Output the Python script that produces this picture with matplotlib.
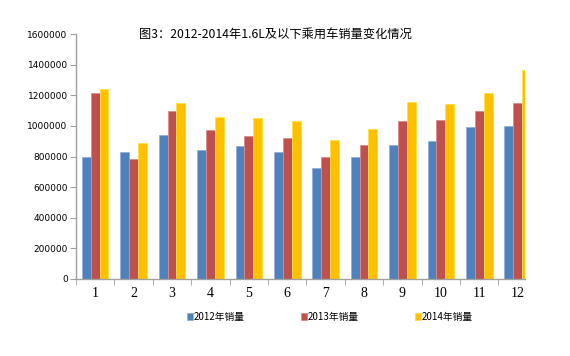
import numpy as np
import matplotlib
matplotlib.use("Agg")
import matplotlib.pyplot as plt
from matplotlib.ticker import MultipleLocator, FixedLocator

plt.rcParams['font.family'] = ['Noto Sans CJK SC', 'DejaVu Sans']

months = ['1', '2', '3', '4', '5', '6', '7', '8', '9', '10', '11', '12']
sales_2012 = [799000, 831000, 940000, 845000, 866000, 831000, 723000, 795000, 877000, 899000, 995000, 999000]
sales_2013 = [1217000, 784000, 1099000, 971000, 936000, 923000, 795000, 877000, 1030000, 1040000, 1095000, 1149000]
sales_2014 = [1241000, 886000, 1149000, 1060000, 1051000, 1032000, 910000, 977000, 1156000, 1145000, 1213000, 1365000]
series_names = ['2012年销量', '2013年销量', '2014年销量']
colors = ['#4F81BD', '#C0504D', '#FFC000']
edges = ['#8FB0DA', '#DA8C8A', '#FFE040']

fig = plt.figure(figsize=(5.7, 3.56), dpi=100)
ax = fig.add_axes([76 / 570, 77 / 356, (525 - 76) / 570, (279 - 34) / 356])

x = np.arange(len(months))
w = 0.23
for i, vals in enumerate([sales_2012, sales_2013, sales_2014]):
    ax.bar(x + (i - 1) * w, vals, width=w, color=colors[i], edgecolor=edges[i],
           linewidth=0.6, label=series_names[i], clip_on=True)

ax.set_xlim(-0.5, 11.19)
ax.set_ylim(0, 1600000)
ax.yaxis.set_major_locator(MultipleLocator(200000))
ax.set_yticklabels([f'{int(v)}' for v in ax.get_yticks()], fontsize=6.5, family='DejaVu Sans')
ax.set_xticks(x)
ax.set_xticklabels(months, fontsize=10, family='Liberation Serif')
ax.xaxis.set_minor_locator(FixedLocator(np.arange(-0.5, 11.0, 1)))
ax.tick_params(axis='x', which='major', length=0, pad=6)
ax.tick_params(axis='x', which='minor', length=4, color='#A0A0A0', direction='out')
ax.tick_params(axis='y', length=4, color='#A0A0A0', direction='out', pad=2)
for s in ['top', 'right']:
    ax.spines[s].set_visible(False)
for s in ['left', 'bottom']:
    ax.spines[s].set_color('#A0A0A0')
    ax.spines[s].set_linewidth(1.0)

fig.text(275 / 570, 1 - 34 / 356, '图3：2012-2014年1.6L及以下乘用车销量变化情况',
         ha='center', va='center', fontsize=8.8)

fig.legend(loc='center', bbox_to_anchor=(330 / 570, 1 - 317 / 356), ncol=3, frameon=False,
           fontsize=7, handlelength=0.6, handleheight=0.6, handletextpad=0.1,
           columnspacing=5.8)

fig.savefig('out.png', dpi=100)
